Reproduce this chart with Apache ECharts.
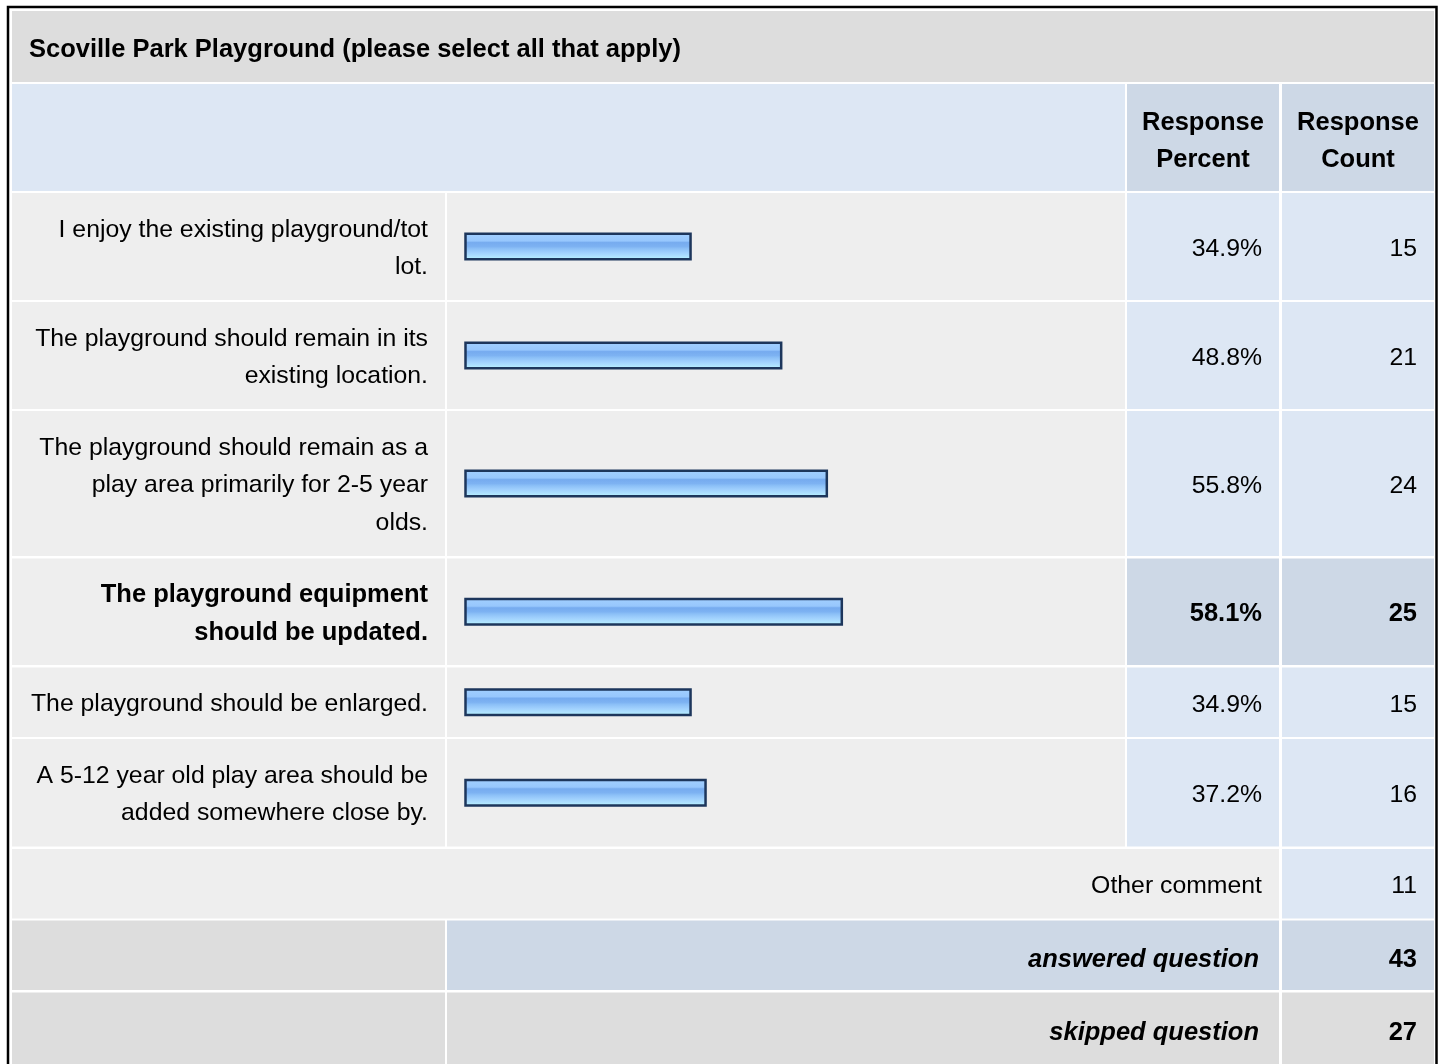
<!DOCTYPE html>
<html>
<head>
<meta charset="utf-8">
<title>Scoville Park Playground</title>
<script src="https://cdn.jsdelivr.net/npm/echarts@6/dist/echarts.min.js"></script>
<style>
  html, body { margin: 0; padding: 0; background: #fff; }
  #chart { width: 1440px; height: 1064px; }
</style>
</head>
<body>
<div id="chart"></div>
<script>
const questionTitle = 'Scoville Park Playground (please select all that apply)';
const answerLabels = [
  'I enjoy the existing playground/tot\nlot.',
  'The playground should remain in its\nexisting location.',
  'The playground should remain as a\nplay area primarily for 2-5 year\nolds.',
  'The playground equipment\nshould be updated.',
  'The playground should be enlarged.',
  'A 5-12 year old play area should be\nadded somewhere close by.'
];
const responsePercent = [34.9, 48.8, 55.8, 58.1, 34.9, 37.2];
const responseCount = [15, 21, 24, 25, 15, 16];
const headerLabels = ['Response\nPercent', 'Response\nCount'];
const otherLabel = 'Other comment';
const otherCount = 11;
const summaryLabels = ['answered question', 'skipped question'];
const summaryCounts = [43, 27];

// table layout (pixels)
const COL = { label: [12, 445], bar: [447, 1125], pct: [1127, 1279], cnt: [1282, 1434] };
const TITLE_ROW = [11, 82];
const HEADER_ROW = [84, 191];
const ANSWER_ROWS = [[193, 300], [302, 409], [411, 556], [558.5, 665], [667.5, 737], [739, 846.5]];
const OTHER_ROW = [849, 918.5];
const SUMMARY_ROWS = [[920.5, 990], [992.5, 1080]];

const FONT = '"Liberation Sans", Arial, Helvetica, sans-serif';
const C_TITLE = '#dddddd';
const C_CELL = '#eeeeee';
const C_BLUE = '#dde7f4';
const C_BLUE_DARK = '#cdd8e6';

const maxIdx = responsePercent.indexOf(Math.max(...responsePercent));

function cell(x, y, color) {
  return {
    type: 'rect', silent: true, z: 0,
    shape: { x: x[0], y: y[0], width: x[1] - x[0], height: y[1] - y[0] },
    style: { fill: color }
  };
}

function label(str, x, y, align, weight, italic) {
  const bold = weight === 'bold';
  return {
    type: 'text', silent: true, z: 1,
    x: x, y: y,
    style: {
      text: str,
      fill: '#000',
      fontFamily: FONT,
      fontSize: bold ? 25.5 : 24.8,
      fontWeight: weight || 'normal',
      fontStyle: italic ? 'italic' : 'normal',
      lineHeight: 37.5,
      align: align, textAlign: align,
      verticalAlign: 'middle', textVerticalAlign: 'middle'
    }
  };
}

const mid = r => (r[0] + r[1]) / 2;
const right = c => c[1] - 17;

const graphics = [];
// outer frame
graphics.push({
  type: 'rect', silent: true, z: 0,
  shape: { x: 8, y: 7, width: 1428.5, height: 1100 },
  style: { fill: 'none', stroke: '#000', lineWidth: 2.5 }
});
// title row
graphics.push(cell([COL.label[0], COL.cnt[1]], TITLE_ROW, C_TITLE));
graphics.push(label(questionTitle, 29, mid(TITLE_ROW) + 3.5, 'left', 'bold'));
// header row
graphics.push(cell([COL.label[0], COL.bar[1]], HEADER_ROW, C_BLUE));
graphics.push(cell(COL.pct, HEADER_ROW, C_BLUE_DARK));
graphics.push(cell(COL.cnt, HEADER_ROW, C_BLUE_DARK));
graphics.push(label(headerLabels[0], mid(COL.pct), mid(HEADER_ROW) + 4, 'center', 'bold'));
graphics.push(label(headerLabels[1], mid(COL.cnt), mid(HEADER_ROW) + 4, 'center', 'bold'));

// answer rows
ANSWER_ROWS.forEach((r, i) => {
  const hi = i === maxIdx;
  const w = hi ? 'bold' : 'normal';
  graphics.push(cell(COL.label, r, C_CELL));
  graphics.push(cell(COL.bar, r, C_CELL));
  graphics.push(cell(COL.pct, r, hi ? C_BLUE_DARK : C_BLUE));
  graphics.push(cell(COL.cnt, r, hi ? C_BLUE_DARK : C_BLUE));
  graphics.push(label(answerLabels[i], right(COL.label), mid(r) + 2, 'right', w));
  graphics.push(label(responsePercent[i].toFixed(1) + '%', right(COL.pct), mid(r) + 2.5, 'right', w));
  graphics.push(label(String(responseCount[i]), right(COL.cnt), mid(r) + 2.5, 'right', w));
});

// other comment row
graphics.push(cell([COL.label[0], COL.pct[1]], OTHER_ROW, C_CELL));
graphics.push(cell(COL.cnt, OTHER_ROW, C_BLUE));
graphics.push(label(otherLabel, right(COL.pct), mid(OTHER_ROW) + 2.5, 'right'));
graphics.push(label(String(otherCount), right(COL.cnt), mid(OTHER_ROW) + 2.5, 'right'));

// answered / skipped
SUMMARY_ROWS.forEach((r, i) => {
  const fill = i === 0 ? C_BLUE_DARK : C_TITLE;
  const yMid = i === 0 ? mid(r) : 1028;
  graphics.push(cell(COL.label, r, C_TITLE));
  graphics.push(cell([COL.bar[0], COL.pct[1]], r, fill));
  graphics.push(cell(COL.cnt, r, fill));
  graphics.push(label(summaryLabels[i], right(COL.pct) - 3, yMid + 5, 'right', 'bold', true));
  graphics.push(label(String(summaryCounts[i]), right(COL.cnt), yMid + 5, 'right', 'bold'));
});

// one small grid per answer row so bars follow the uneven row heights
const barFill = new echarts.graphic.LinearGradient(0, 0, 0, 1, [
  { offset: 0, color: '#a3d0ff' },
  { offset: 0.3, color: '#97c7fd' },
  { offset: 0.36, color: '#76abef' },
  { offset: 0.5, color: '#7db2f2' },
  { offset: 0.58, color: '#8cc0f7' },
  { offset: 0.72, color: '#a0d0fd' },
  { offset: 0.86, color: '#afe2ff' },
  { offset: 1, color: '#b9ffff' }
]);

const grids = [], xAxes = [], yAxes = [], series = [];
ANSWER_ROWS.forEach((r, i) => {
  grids.push({ left: 464.25, width: 652, top: r[0], height: r[1] - r[0] });
  xAxes.push({ type: 'value', gridIndex: i, min: 0, max: 100, show: false });
  yAxes.push({ type: 'category', gridIndex: i, data: [answerLabels[i]], show: false });
  series.push({
    type: 'bar',
    xAxisIndex: i,
    yAxisIndex: i,
    data: [responsePercent[i]],
    barWidth: 28,
    silent: true,
    itemStyle: { color: barFill, borderColor: '#1d365c', borderWidth: 2.5 }
  });
});

const chart = echarts.init(document.getElementById('chart'));
chart.setOption({
  animation: false,
  backgroundColor: '#fff',
  grid: grids,
  xAxis: xAxes,
  yAxis: yAxes,
  series: series,
  graphic: graphics
});
</script>
</body>
</html>
